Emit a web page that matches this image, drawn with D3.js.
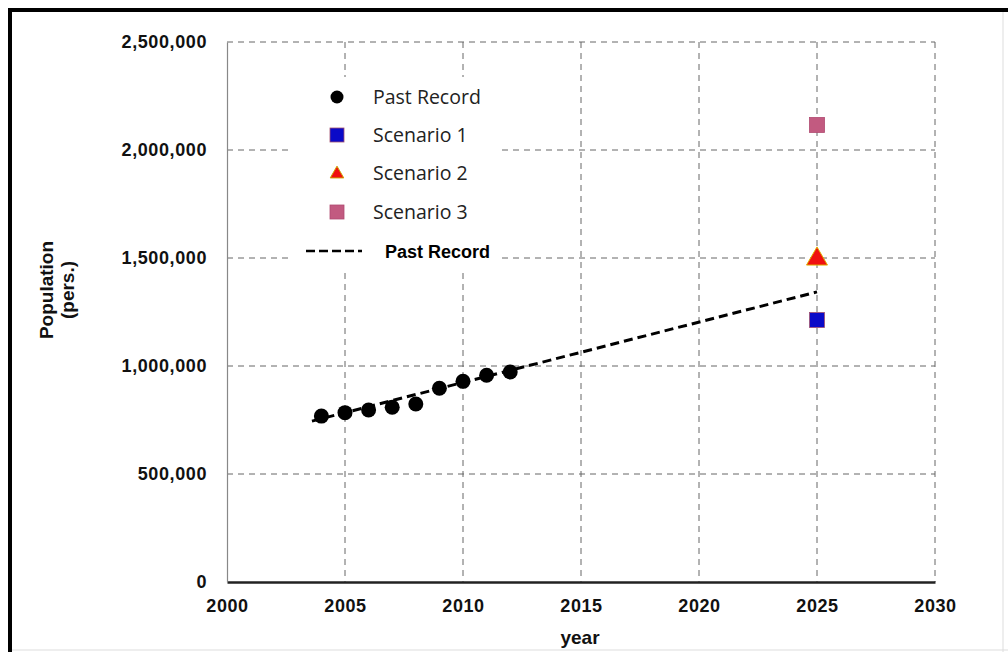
<!DOCTYPE html>
<html><head><meta charset="utf-8">
<script src="https://cdn.jsdelivr.net/npm/d3@7"></script>
<style>body{margin:0;background:#fff;} svg{display:block;}</style>
</head><body>
<svg id="c" width="1008" height="652"></svg>
<script>
// Data
const pastYears = [2004, 2005, 2006, 2007, 2008, 2009, 2010, 2011, 2012];
const pastPop = [768000, 784000, 796000, 809000, 824000, 897000, 929000, 957000, 972000];
const trendYears = [2003.6, 2025];
const trendPop = [745000, 1343000];
const scenarioNames = ["Scenario 1", "Scenario 2", "Scenario 3"];
const scenarioYear = 2025;
const scenarioPop = [1213000, 1500000, 2116000];
const xTicks = [2000, 2005, 2010, 2015, 2020, 2025, 2030];
const yTicks = [0, 500000, 1000000, 1500000, 2000000, 2500000];

const svg = d3.select("#c");
const M = {l: 227, r: 935, t: 42, b: 582};
const x = d3.scaleLinear().domain([2000, 2030]).range([M.l, M.r]);
const y = d3.scaleLinear().domain([0, 2500000]).range([M.b, M.t]);
const fmt = d3.format(",");
const boldFont = "Liberation Sans, Arial, sans-serif";

// Outer frame
svg.append("line").attr("x1", 10).attr("x2", 1008).attr("y1", 10).attr("y2", 10).attr("stroke", "#000").attr("stroke-width", 4);
svg.append("line").attr("x1", 10).attr("x2", 10).attr("y1", 8).attr("y2", 652).attr("stroke", "#000").attr("stroke-width", 4);
svg.append("line").attr("x1", 1003).attr("x2", 1003).attr("y1", 12).attr("y2", 652).attr("stroke", "#ddd").attr("stroke-width", 1);
svg.append("line").attr("x1", 12).attr("x2", 1008).attr("y1", 650).attr("y2", 650).attr("stroke", "#ddd").attr("stroke-width", 1);

// Gridlines
const grid = svg.append("g");
grid.selectAll("line.gx").data(xTicks.filter(d => d > 2000)).join("line")
  .attr("x1", d => x(d)).attr("x2", d => x(d)).attr("y1", M.t).attr("y2", M.b)
  .attr("stroke", "#666").attr("stroke-width", 1).attr("stroke-dasharray", "6,5");
grid.selectAll("line.gy").data(yTicks.filter(d => d > 0)).join("line")
  .attr("x1", M.l).attr("x2", M.r).attr("y1", d => y(d)).attr("y2", d => y(d))
  .attr("stroke", "#666").attr("stroke-width", 1).attr("stroke-dasharray", "6,5");

// Legend white box (covers gridlines)
svg.append("rect").attr("x", 293).attr("y", 77).attr("width", 207).attr("height", 193).attr("fill", "#fff");

// Axes
const xAxis = d3.axisBottom(x).tickValues(xTicks).tickFormat(d3.format("d")).tickSize(0).tickPadding(17);
const gx = svg.append("g").attr("transform", `translate(0,${M.b})`).call(xAxis);
gx.select(".domain").attr("stroke", "#222").attr("stroke-width", 2.5);
gx.selectAll("text").attr("font-family", boldFont).attr("font-weight", "bold").attr("font-size", 18)
  .attr("letter-spacing", 0.6).attr("fill", "#111");

const yAxis = d3.axisLeft(y).tickValues(yTicks).tickFormat(fmt).tickSize(0).tickPadding(20);
const gy = svg.append("g").attr("transform", `translate(${M.l},0)`).call(yAxis);
gy.select(".domain").attr("stroke", "#888").attr("stroke-width", 1.2);
gy.selectAll("text").attr("font-family", boldFont).attr("font-weight", "bold").attr("font-size", 18)
  .attr("letter-spacing", 0.6).attr("fill", "#111");

// Axis titles
svg.append("text").attr("x", 580).attr("y", 644).attr("text-anchor", "middle")
  .attr("font-family", boldFont).attr("font-weight", "bold").attr("font-size", 19).attr("fill", "#111").text("year");
const yt = svg.append("text").attr("transform", "translate(53,290) rotate(-90)").attr("text-anchor", "middle")
  .attr("font-family", boldFont).attr("font-weight", "bold").attr("font-size", 19).attr("fill", "#111");
yt.append("tspan").attr("x", 0).attr("dy", 0).text("Population");
yt.append("tspan").attr("x", 0).attr("dy", 21).text("(pers.)");

// Trend line
const line = d3.line().x(d => x(d[0])).y(d => y(d[1]));
svg.append("path").datum(d3.zip(trendYears, trendPop)).attr("d", line)
  .attr("fill", "none").attr("stroke", "#000").attr("stroke-width", 3).attr("stroke-dasharray", "9,5");

// Past record dots
svg.selectAll("circle.past").data(d3.zip(pastYears, pastPop)).join("circle")
  .attr("cx", d => x(d[0])).attr("cy", d => y(d[1])).attr("r", 7.5).attr("fill", "#000");

// Scenario markers
const sq = 15;
svg.append("rect").attr("x", x(scenarioYear) - sq/2).attr("y", y(scenarioPop[0]) - sq/2).attr("width", sq).attr("height", sq)
  .attr("fill", "#0a0ac8").attr("stroke", "#a05070").attr("stroke-width", 0.8);
svg.append("path").attr("d", d3.symbol().type(d3.symbolTriangle).size(190)())
  .attr("transform", `translate(${x(scenarioYear)},${y(scenarioPop[1]) + 1})`)
  .attr("fill", "#f01010").attr("stroke", "#e0b000").attr("stroke-width", 1);
svg.append("rect").attr("x", x(scenarioYear) - sq/2).attr("y", y(scenarioPop[2]) - sq/2).attr("width", sq).attr("height", sq)
  .attr("fill", "#c25a80").attr("stroke", "#b04a70").attr("stroke-width", 0.8);

// Legend
const legFont = "Open Sans, Noto Sans, sans-serif";
const lx = 337, ltx = 373;
const ly = [97, 135, 173, 212];
const legLabels = ["Past Record"].concat(scenarioNames);
svg.append("circle").attr("cx", lx).attr("cy", ly[0]).attr("r", 6.5).attr("fill", "#000");
svg.append("rect").attr("x", lx - 7).attr("y", ly[1] - 7).attr("width", 14).attr("height", 14)
  .attr("fill", "#0a0ac8").attr("stroke", "#a05070").attr("stroke-width", 0.8);
svg.append("path").attr("d", d3.symbol().type(d3.symbolTriangle).size(80)())
  .attr("transform", `translate(${lx},${ly[2] + 1})`).attr("fill", "#f01010").attr("stroke", "#d0a000").attr("stroke-width", 1);
svg.append("rect").attr("x", lx - 7).attr("y", ly[3] - 7).attr("width", 14).attr("height", 14)
  .attr("fill", "#c25a80").attr("stroke", "#b04a70").attr("stroke-width", 0.8);
svg.selectAll("text.leg").data(legLabels).join("text")
  .attr("x", ltx).attr("y", (d, i) => ly[i]).attr("dy", "0.35em")
  .attr("font-family", legFont).attr("font-size", 19.5).attr("fill", "#222").text(d => d);

svg.append("line").attr("x1", 306).attr("x2", 362).attr("y1", 251).attr("y2", 251)
  .attr("stroke", "#000").attr("stroke-width", 2.5).attr("stroke-dasharray", "9,4");
svg.append("text").attr("x", 385).attr("y", 252).attr("dy", "0.35em")
  .attr("font-family", boldFont).attr("font-weight", "bold").attr("font-size", 18).attr("fill", "#000").text("Past Record");
</script>
</body></html>
